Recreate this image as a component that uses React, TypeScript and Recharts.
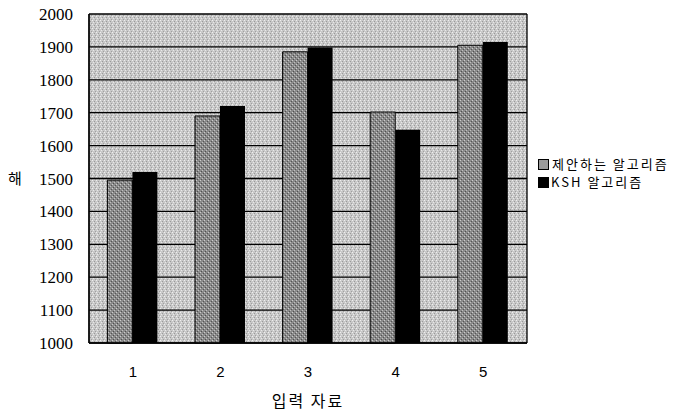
import React from 'react';
import { BarChart, Bar, XAxis, YAxis, CartesianGrid, Legend } from 'recharts';

const inputs = ['1', '2', '3', '4', '5'];
const proposed = [1495, 1690, 1885, 1702, 1905];
const ksh = [1520, 1720, 1898, 1648, 1915];
const yTicks = [1000, 1100, 1200, 1300, 1400, 1500, 1600, 1700, 1800, 1900, 2000];
const seriesNames = ['제안하는 알고리즘', 'KSH 알고리즘'];

const data = inputs.map((name, i) => ({ name, proposed: proposed[i], ksh: ksh[i] }));

const KR = '"Noto Sans CJK KR", sans-serif';

const LegendBox = () => (
  <div style={{ fontFamily: KR, fontSize: 13, letterSpacing: 2, color: '#000', lineHeight: '18px', whiteSpace: 'nowrap' }}>
    <div style={{ display: 'flex', alignItems: 'center', height: 18 }}>
      <span style={{ width: 9, height: 9, border: '1px solid #000', background: '#9a9a9a', marginRight: 3, flexShrink: 0 }} />
      <span>{seriesNames[0]}</span>
    </div>
    <div style={{ display: 'flex', alignItems: 'center', height: 18 }}>
      <span style={{ width: 11, height: 11, background: '#000', marginRight: 2, flexShrink: 0 }} />
      <span>{seriesNames[1]}</span>
    </div>
  </div>
);

export default function App() {
  return (
    <div style={{ position: 'absolute', left: 0, top: 0, background: '#fff' }}>
      <BarChart
        width={692}
        height={412}
        data={data}
        margin={{ top: 14, right: 15, bottom: 0, left: 0 }}
        barCategoryGap="21%"
        barGap={0}
      >
        <defs>
          <pattern id="bgTex" width="4" height="4" patternUnits="userSpaceOnUse">
            <rect width="4" height="4" fill="#c8c8c8" />
            <rect x="0" y="0" width="1" height="1" fill="#efefef" />
            <rect x="2" y="1" width="1" height="1" fill="#9a9a9a" />
            <rect x="1" y="2" width="1" height="1" fill="#e8e8e8" />
            <rect x="3" y="3" width="1" height="1" fill="#a0a0a0" />
          </pattern>
          <pattern id="barTex" width="4" height="4" patternUnits="userSpaceOnUse">
            <rect width="4" height="4" fill="#8a8a8a" />
            <rect x="0" y="0" width="1" height="1" fill="#cccccc" />
            <rect x="2" y="2" width="1" height="1" fill="#c0c0c0" />
            <rect x="1" y="3" width="1" height="1" fill="#505050" />
            <rect x="3" y="1" width="1" height="1" fill="#555" />
          </pattern>
        </defs>
        <CartesianGrid
          stroke="#000"
          strokeWidth={1.3}
          fill="url(#bgTex)"
          fillOpacity={1}
          verticalCoordinatesGenerator={({ offset }: any) => [offset.left, offset.left + offset.width]}
        />
        <XAxis
          dataKey="name"
          height={69}
          tickLine={false}
          tickMargin={17}
          axisLine={{ stroke: '#000', strokeWidth: 1.3 }}
          tick={{ fill: '#000', fontSize: 15, fontFamily: '"Liberation Sans", Arial, sans-serif' }}
          label={{ value: '입력 자료', position: 'insideBottom', offset: 5, fill: '#000', fontSize: 16, letterSpacing: 2, fontFamily: KR }}
        />
        <YAxis
          width={89}
          domain={[1000, 2000]}
          ticks={yTicks}
          interval={0}
          tickLine={false}
          tickMargin={10}
          axisLine={{ stroke: '#000', strokeWidth: 1.3 }}
          tick={{ fill: '#000', fontSize: 17, fontFamily: '"Liberation Serif", "DejaVu Serif", serif' }}
          label={{ value: '해', position: 'insideLeft', offset: 8, fill: '#000', fontSize: 15, fontFamily: KR }}
        />
        <Legend
          layout="vertical"
          verticalAlign="top"
          align="right"
          content={<LegendBox />}
          wrapperStyle={{ left: 538, top: 155, width: 150 }}
        />
        <Bar dataKey="proposed" name={seriesNames[0]} fill="url(#barTex)" stroke="#000" strokeWidth={1} isAnimationActive={false} />
        <Bar dataKey="ksh" name={seriesNames[1]} fill="#000" isAnimationActive={false} />
      </BarChart>
    </div>
  );
}
